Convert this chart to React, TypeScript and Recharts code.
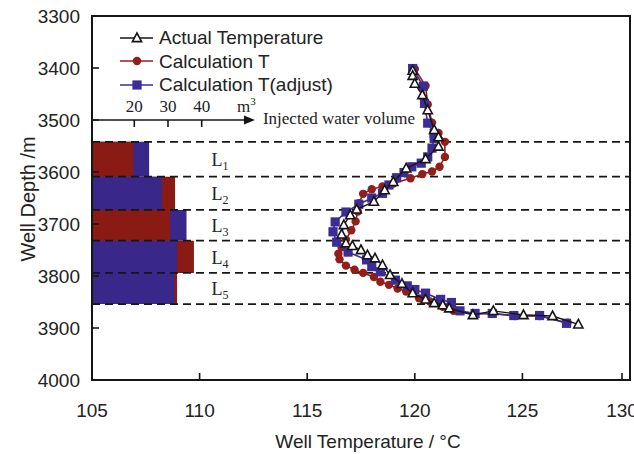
import React from "react";
import {
  ScatterChart,
  Scatter,
  XAxis,
  YAxis,
  ReferenceArea,
  ReferenceLine,
  ReferenceDot,
  Legend,
} from "recharts";

// Axis ticks
const X_TICKS = [105, 110, 115, 120, 125, 130];
const Y_TICKS = [3300, 3400, 3500, 3600, 3700, 3800, 3900, 4000];

// Actual Temperature (open triangles)
const ACTUAL_T = [119.9, 119.9, 120.0, 120.35, 120.6, 120.9, 121.1, 121.1, 120.5, 119.6, 119.0, 118.6, 118.1, 117.3, 117.0, 116.7, 116.6, 116.8, 117.1, 117.5, 117.8, 118.15, 118.5, 118.85, 119.4, 119.9, 120.5, 120.9, 121.3, 121.6, 122.7, 123.65, 125.05, 126.4, 127.6];
const ACTUAL_D = [3405, 3415, 3430, 3452, 3481, 3519, 3533, 3551, 3575, 3593, 3619, 3635, 3657, 3672, 3683, 3702, 3720, 3737, 3742, 3750, 3760, 3766, 3779, 3798, 3815, 3833, 3845, 3852, 3856, 3862, 3875, 3867, 3875, 3877, 3893];

// Calculation T (red circles)
const CALC_T = [120.0, 120.5, 120.6, 120.8, 121.1, 121.4, 121.4, 121.15, 120.8, 120.35, 119.8, 119.0, 118.5, 118.0, 117.6, 117.4, 117.35, 117.25, 117.05, 116.8, 116.6, 116.45, 116.5, 116.8, 117.2, 117.6, 118.1, 118.4, 118.8, 119.2, 119.6, 120.2, 120.7, 121.3, 121.8, 122.8, 123.6, 124.65, 125.8, 127.1];
const CALC_D = [3402, 3434, 3470, 3505, 3525, 3542, 3571, 3590, 3599, 3604, 3612, 3622, 3628, 3633, 3642, 3660, 3676, 3695, 3712, 3730, 3745, 3757, 3768, 3780, 3788, 3794, 3802, 3811, 3817, 3824, 3830, 3843, 3849, 3859, 3867, 3873, 3872, 3877, 3877, 3890];

// Calculation T(adjust) (blue squares)
const ADJ_T = [119.9, 120.4, 120.45, 120.6, 120.9, 120.9, 120.8, 120.6, 120.3, 119.86, 119.5, 119.16, 118.8, 118.5, 118.0, 117.4, 116.8, 116.3, 116.2, 116.37, 116.9, 117.76, 118.0, 118.4, 119.1, 119.65, 120.0, 120.5, 121.2, 121.7, 122.1, 122.8, 123.6, 124.6, 125.8, 127.05];
const ADJ_D = [3401, 3435, 3468, 3506, 3526, 3535, 3554, 3571, 3583, 3590, 3601, 3611, 3625, 3641, 3650, 3662, 3677, 3696, 3715, 3735, 3754, 3769, 3782, 3792, 3808, 3819, 3826, 3833, 3845, 3851, 3867, 3872, 3872, 3876, 3876, 3891];

// Injection layers (depth bands) and injected water volume, m3
const LAYERS = ["1", "2", "3", "4", "5"];
const LAYER_TOP = [3542, 3609, 3673, 3732, 3794];
const LAYER_BOTTOM = [3609, 3673, 3732, 3794, 3854];
const VOL_CALC = [19.7, 32.1, 30.6, 37.7, 32.7];
const VOL_ADJ = [24.4, 28.2, 35.5, 32.7, 31.9];
const VOL_TICKS = [20, 30, 40];

const RED = "#951d18";
const BLUE = "#3d2c95";
const BAR_RED = "#8a1a14";
const BAR_BLUE = "#392889";
const INK = "#161616";
const SANS = "'Liberation Sans', Arial, Helvetica, sans-serif";
const SERIF = "'Liberation Serif', 'Times New Roman', serif";

// The volume inset shares the temperature axis: the left frame is ~7.45 m3
// and one m3 takes ~0.157 deg of the temperature scale (20 -> 40 is ~67px).
const VOL_AT_FRAME = 7.45;
const DEG_PER_VOL = 0.1566;
const VOL_ARROW_END = 55.8;
const INNER_AXIS_DEPTH = 3500;
const volToT = (v: number) => 105 + (v - VOL_AT_FRAME) * DEG_PER_VOL;

const toPoints = (t: number[], d: number[]) => t.map((v, i) => ({ t: v, d: d[i] }));

const triangle = (p: any) => (
  <path
    d={`M${p.cx},${p.cy - 5} L${p.cx - 4.6},${p.cy + 3.6} L${p.cx + 4.6},${p.cy + 3.6} Z`}
    fill="#fff"
    stroke={INK}
    strokeWidth={1.6}
  />
);
const circle = (p: any) => <circle cx={p.cx} cy={p.cy} r={4.2} fill={RED} />;
const square = (p: any) => <rect x={p.cx - 4.6} y={p.cy - 4.6} width={9.2} height={9.2} fill={BLUE} />;

const SERIES = [
  { name: "Actual Temperature", color: INK, marker: triangle },
  { name: "Calculation T", color: RED, marker: circle },
  { name: "Calculation T(adjust)", color: BLUE, marker: square },
];

function XTick({ x, y, payload }: any) {
  const axisY = y - 20;
  return (
    <g>
      <line x1={x} x2={x} y1={axisY} y2={axisY - 7} stroke={INK} strokeWidth={1.6} />
      <text x={x} y={axisY + 37} textAnchor="middle" fontSize={19} fill="#222" fontFamily={SANS}>
        {payload.value}
      </text>
    </g>
  );
}

function YTick({ x, y, payload }: any) {
  const axisX = x + 12;
  return (
    <g>
      <line x1={axisX} x2={axisX + 7} y1={y} y2={y} stroke={INK} strokeWidth={1.6} />
      <text x={x} y={y + 7} textAnchor="end" fontSize={19} fill="#222" fontFamily={SANS}>
        {payload.value}
      </text>
    </g>
  );
}

function LegendBox() {
  return (
    <div style={{ fontFamily: SANS, fontSize: 19, color: "#222", lineHeight: "23.5px" }}>
      {SERIES.map((s) => (
        <div key={s.name} style={{ display: "flex", alignItems: "center", height: 23.5 }}>
          <svg width={40} height={20} style={{ display: "block" }}>
            <line x1={1} x2={34} y1={10} y2={10} stroke={s.color} strokeWidth={1.6} />
            {s.marker({ cx: 18, cy: 10 })}
          </svg>
          <span>{s.name}</span>
        </div>
      ))}
    </div>
  );
}

export default function App() {
  const actual = toPoints(ACTUAL_T, ACTUAL_D);
  const calc = toPoints(CALC_T, CALC_D);
  const adj = toPoints(ADJ_T, ADJ_D);
  const dashed = [...LAYER_TOP, LAYER_BOTTOM[LAYER_BOTTOM.length - 1]];

  const bars: React.ReactNode[] = [];
  LAYERS.forEach((l, i) => {
    const a = { v: VOL_CALC[i], c: BAR_RED };
    const b = { v: VOL_ADJ[i], c: BAR_BLUE };
    // longer bar behind, shorter one in front
    const [back, front] = a.v >= b.v ? [a, b] : [b, a];
    [back, front].forEach((bar, k) =>
      bars.push(
        <ReferenceArea
          key={`bar${l}${k}`}
          x1={105}
          x2={volToT(bar.v)}
          y1={LAYER_TOP[i]}
          y2={LAYER_BOTTOM[i]}
          fill={bar.c}
          fillOpacity={1}
          stroke="none"
        />
      )
    );
  });

  return (
    <div style={{ position: "absolute", left: 0, top: 0, width: 634, height: 454, background: "#fff" }}>
      <ScatterChart width={634} height={454} margin={{ top: 16, right: 4, bottom: 0, left: 0 }}>
        <XAxis
          type="number"
          dataKey="t"
          domain={[105, 130]}
          ticks={X_TICKS}
          allowDataOverflow
          axisLine={false}
          tickLine={false}
          tickSize={0}
          tickMargin={20}
          height={74}
          tick={<XTick />}
          label={() => (
            <text x={368} y={448} textAnchor="middle" fontSize={19} fill="#222" fontFamily={SANS}>
              Well Temperature / °C
            </text>
          )}
        />
        <YAxis
          type="number"
          dataKey="d"
          reversed
          domain={[3300, 4000]}
          ticks={Y_TICKS}
          allowDataOverflow
          axisLine={false}
          tickLine={false}
          tickSize={0}
          tickMargin={12}
          width={92}
          tick={<YTick />}
          label={() => (
            <text transform="translate(35,199) rotate(-90)" textAnchor="middle" fontSize={20} fill="#222" fontFamily={SANS}>
              Well Depth /m
            </text>
          )}
        />

        {bars}

        {dashed.map((d) => (
          <ReferenceLine key={`d${d}`} y={d} stroke={INK} strokeWidth={1.8} strokeDasharray="8 5" />
        ))}

        {/* inner volume axis with arrow */}
        <ReferenceLine
          segment={[
            { x: 105, y: INNER_AXIS_DEPTH },
            { x: volToT(VOL_ARROW_END - 2), y: INNER_AXIS_DEPTH },
          ]}
          stroke={INK}
          strokeWidth={1.6}
        />
        <ReferenceDot
          x={volToT(VOL_ARROW_END)}
          y={INNER_AXIS_DEPTH}
          r={0}
          shape={(p: any) => (
            <g>
              <path d={`M${p.cx},${p.cy} L${p.cx - 11},${p.cy - 4.5} L${p.cx - 11},${p.cy + 4.5} Z`} fill={INK} />
              <text x={p.cx + 8} y={p.cy + 4} fontSize={17} fill="#222" fontFamily={SERIF}>
                Injected water volume
              </text>
            </g>
          )}
        />
        {VOL_TICKS.map((v) => (
          <ReferenceDot
            key={`vt${v}`}
            x={volToT(v)}
            y={INNER_AXIS_DEPTH}
            r={0}
            shape={(p: any) => (
              <g>
                <line x1={p.cx} x2={p.cx} y1={p.cy} y2={p.cy + 7} stroke={INK} strokeWidth={1.6} />
                <text x={p.cx} y={p.cy - 8} textAnchor="middle" fontSize={17} fill="#222" fontFamily={SERIF}>
                  {v}
                </text>
              </g>
            )}
          />
        ))}
        <ReferenceDot
          x={volToT(VOL_TICKS[VOL_TICKS.length - 1] + 10.5)}
          y={INNER_AXIS_DEPTH}
          r={0}
          shape={(p: any) => (
            <text x={p.cx} y={p.cy - 8} fontSize={17} fill="#222" fontFamily={SERIF}>
              m<tspan fontSize={11} dy={-7}>3</tspan>
            </text>
          )}
        />

        {/* layer names */}
        {LAYERS.map((l, i) => (
          <ReferenceDot
            key={`L${l}`}
            x={110.55}
            y={(LAYER_TOP[i] + LAYER_BOTTOM[i]) / 2}
            r={0}
            shape={(p: any) => (
              <text x={p.cx} y={p.cy + 7} fontSize={18} fill="#222" fontFamily={SERIF}>
                L<tspan fontSize={12} dy={4}>{l}</tspan>
              </text>
            )}
          />
        ))}

        {/* plot frame */}
        <ReferenceArea x1={105} x2={130} y1={3300} y2={4000} fill="none" stroke={INK} strokeWidth={2} />

        <Scatter name="Calculation T" data={calc} line={{ stroke: RED, strokeWidth: 1.6 }} shape={circle} isAnimationActive={false} />
        <Scatter name="Calculation T(adjust)" data={adj} line={{ stroke: BLUE, strokeWidth: 1.6 }} shape={square} isAnimationActive={false} />
        <Scatter name="Actual Temperature" data={actual} line={{ stroke: INK, strokeWidth: 1.4 }} shape={triangle} isAnimationActive={false} />

        <Legend
          layout="horizontal"
          verticalAlign="middle"
          align="center"
          content={<LegendBox />}
          wrapperStyle={{ top: 26, left: 119, width: "auto", height: "auto" }}
        />
      </ScatterChart>
    </div>
  );
}
